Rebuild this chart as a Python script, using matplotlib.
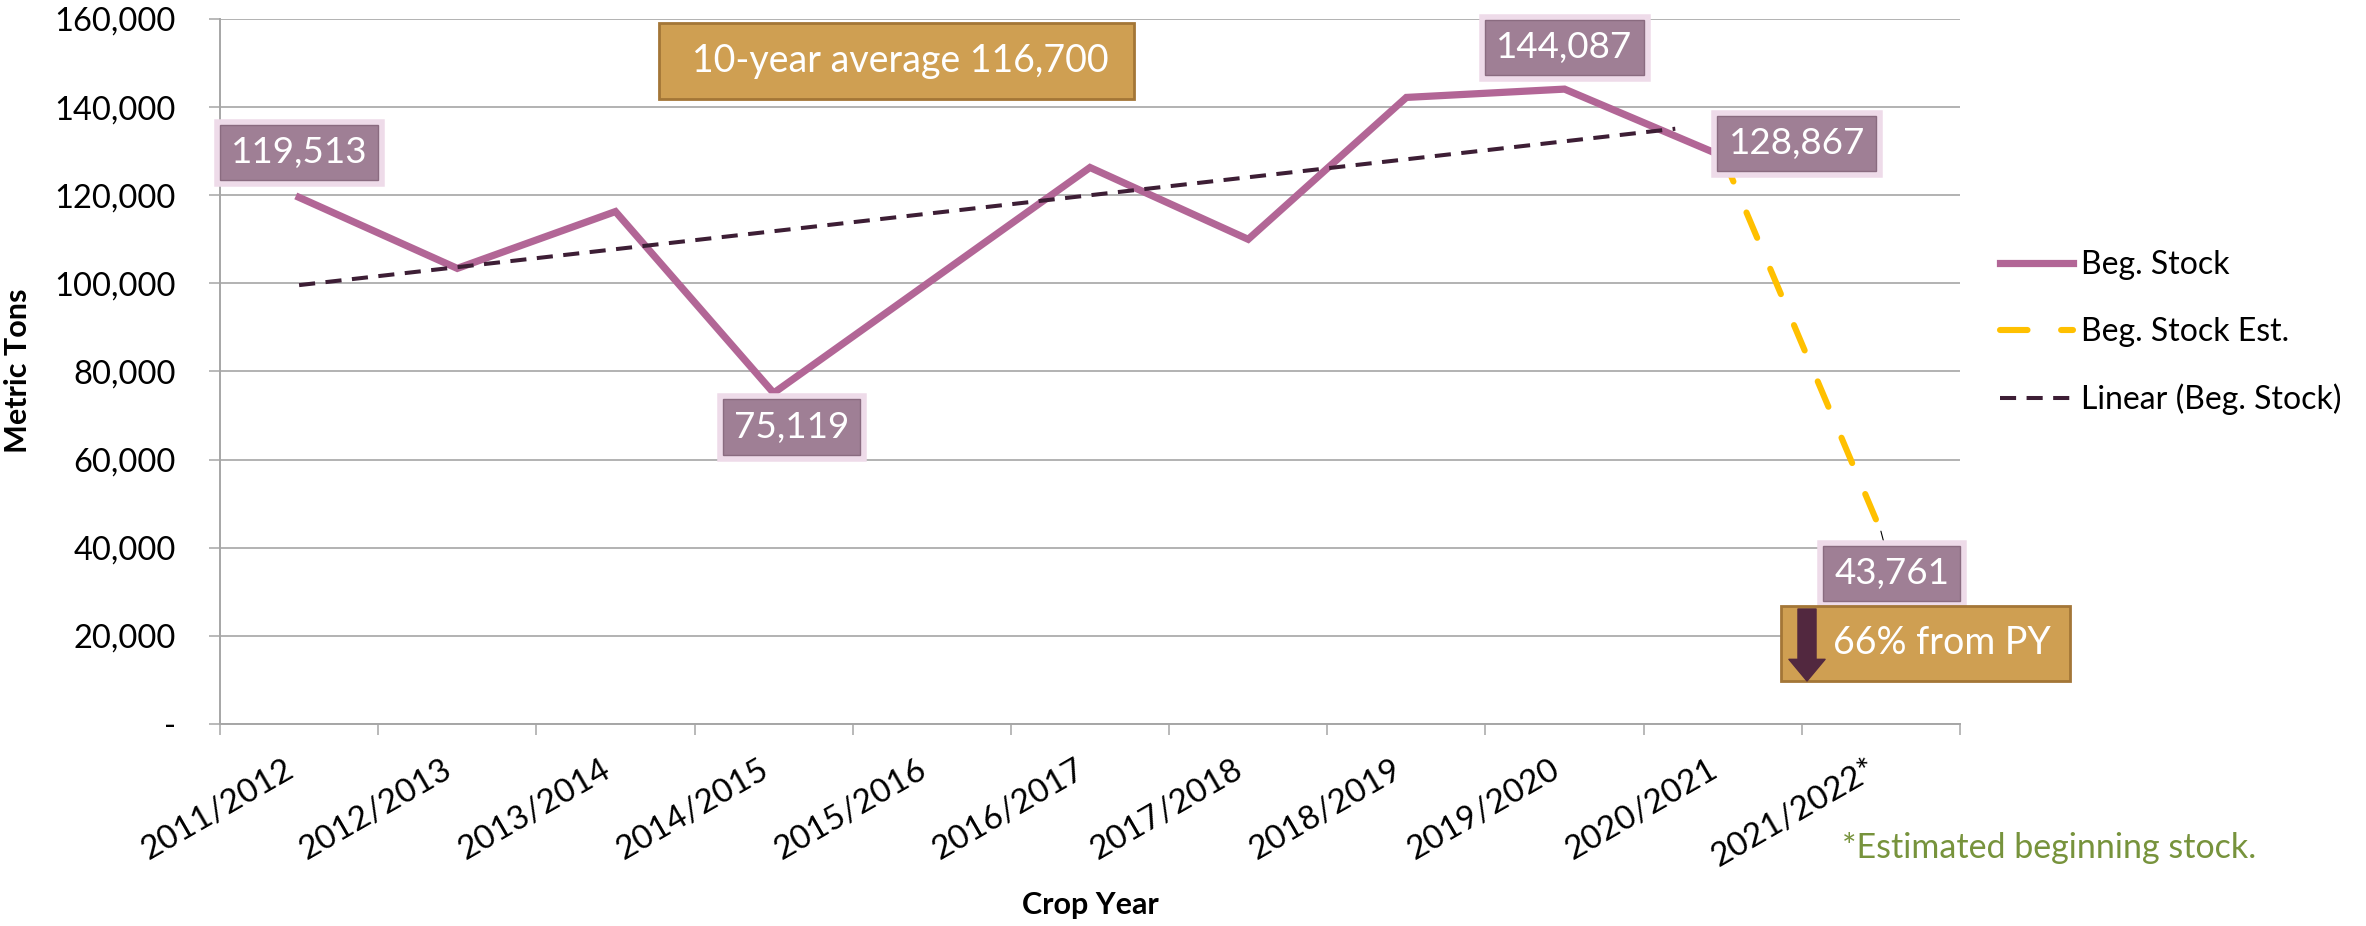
import numpy as np
import matplotlib.pyplot as plt
import matplotlib.patheffects as pe
from matplotlib.patches import Rectangle
from matplotlib.transforms import IdentityTransform

plt.rcParams['font.family'] = ['Lato', 'DejaVu Sans']

# Data
years = ['2011/2012', '2012/2013', '2013/2014', '2014/2015', '2015/2016', '2016/2017',
         '2017/2018', '2018/2019', '2019/2020', '2020/2021', '2021/2022*']
beg_stock = [119513, 103400, 116300, 75119, 100700, 126300, 110000, 142200, 144087, 128867]
est_stock = [128867, 43761]          # 2020/2021 -> 2021/2022*
est_idx = [9, 10]
trend_values = [99600, 135100]       # linear trendline ends
trend_idx = [0, 8.7]
labelled = {0: (0, 45), 3: (18, -34), 8: (0, 42), 9: (74, 13)}   # offsets in px
est_label_offset = (11, -42)
avg_text = '10-year average 116,700'
drop_text = '66% from PY'
note_text = '*Estimated beginning stock.'

W, H = 2366, 926
fig = plt.figure(figsize=(W / 100, H / 100), dpi=100)
ax = fig.add_axes([220 / W, 1 - 724 / H, (1960 - 220) / W, (724 - 19) / H])
px = IdentityTransform()

grid_c = '#a6a6a6'
x = np.arange(len(beg_stock))
ax.plot(x, beg_stock, color='#b26696', lw=5.2, solid_joinstyle='miter', zorder=3,
        label='Beg. Stock')
ax.plot(est_idx, est_stock, color='#ffc000', lw=4.4, dashes=(4.5, 5.5),
        dash_capstyle='round', zorder=3, label='Beg. Stock Est.')
ax.plot(trend_idx, trend_values, color='#3d1e35', lw=2.9, dashes=(4.0, 2.6), zorder=4,
        label='Linear (Beg. Stock)')

# axes styling
ax.set_xlim(-0.5, len(years) - 0.5)
ax.set_ylim(0, 160000)
yt = np.arange(0, 160001, 20000)
ax.set_yticks(yt)
ax.set_yticklabels(['-' if v == 0 else f'{v:,}' for v in yt], fontsize=23.5)
ax.yaxis.grid(True, color=grid_c, lw=1.2)
ax.set_axisbelow(True)
ax.set_xticks(np.arange(len(years)))
ax.set_xticklabels(years, rotation=30, ha='right', va='top', fontsize=24)
ax.set_xticks(np.arange(-0.5, len(years)), minor=True)
ax.tick_params(axis='x', which='major', length=0, pad=22)
ax.tick_params(axis='x', which='minor', length=8, color=grid_c, width=1.1)
ax.tick_params(axis='y', length=8, color=grid_c, width=1.1, pad=24)
for s in ['top', 'right']:
    ax.spines[s].set_visible(False)
for s in ['left', 'bottom']:
    ax.spines[s].set_color(grid_c)
    ax.spines[s].set_linewidth(1.4)

fig.text(18 / W, 1 - 371 / H, 'Metric Tons', rotation=90, fontsize=22, fontweight='bold',
         ha='center', va='center')
fig.text(1090 / W, 1 - 905 / H, 'Crop Year', fontsize=22, fontweight='bold',
         ha='center', va='center')

# data labels
box_kw = dict(boxstyle='square,pad=0.3', fc='#9f7f95', ec='#8a6b80', lw=1)
glow = [pe.Stroke(linewidth=9, foreground='#eedbe9'), pe.Normal()]


def data_label(xi, yi, off, arrow=False):
    kw = {}
    if arrow:
        kw['arrowprops'] = dict(arrowstyle='-', color='black', lw=0.8, shrinkA=0, shrinkB=0)
    t = ax.annotate(f'{yi:,}', (xi, yi), xytext=(off[0] * 0.72, off[1] * 0.72),
                    textcoords='offset points', ha='center', va='center', color='white',
                    fontsize=26.5, bbox=box_kw, zorder=6, **kw)
    t.get_bbox_patch().set_path_effects(glow)


for i, off in labelled.items():
    data_label(x[i], beg_stock[i], off)
data_label(est_idx[1], est_stock[1], est_label_offset, arrow=True)

# 10-year average box
ax.add_patch(Rectangle((659, H - 99), 475, 76, fc='#cf9f52', ec='#a37637', lw=2,
                       transform=px, clip_on=False, zorder=7))
ax.text(900, H - 61, avg_text, color='white', fontsize=27, ha='center',
        va='center', transform=px, zorder=8)

# drop box with arrow
ax.add_patch(Rectangle((1781, H - 681), 289, 75, fc='#cf9f52', ec='#a37637', lw=2,
                       transform=px, clip_on=False, zorder=7))
ax.text(1942, H - 643, drop_text, color='white', fontsize=27, ha='center',
        va='center', transform=px, zorder=8)
ax.annotate('', xy=(1807, H - 681), xytext=(1807, H - 609), xycoords='figure pixels',
            textcoords='figure pixels', annotation_clip=False, zorder=9,
            arrowprops=dict(arrowstyle='simple,head_length=1.2,head_width=2.0,tail_width=1.0',
                            mutation_scale=13, color='#52283f', shrinkA=0, shrinkB=0))

fig.text(1842 / W, 1 - 848 / H, note_text, color='#77933c', fontsize=24.5, ha='left',
         va='center')

fig.legend(loc='upper left', bbox_to_anchor=(2000 / W, 1 - 250 / H), frameon=False,
           fontsize=23, handlelength=2.3, handletextpad=0.25, labelspacing=1.15,
           borderpad=0, borderaxespad=0)

fig.savefig('out.png', dpi=100)
